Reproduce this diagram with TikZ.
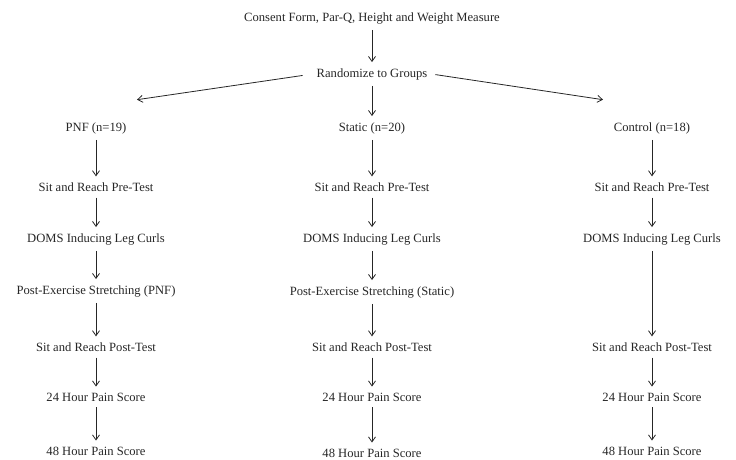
\documentclass[tikz,border=0pt]{standalone}
\usepackage{fontspec}
\setmainfont{Liberation Serif}
\usetikzlibrary{arrows.meta, positioning}

\begin{document}
\begin{tikzpicture}[
  x=1pt, y=-1pt,
  step box/.style={inner sep=4pt, font=\fontsize{12.6}{14}\selectfont, text=black!85},
  edge/.style={-{Straight Barb[length=5pt,width=7pt]}, line width=0.8pt, black!85, shorten <=2pt, shorten >=2pt}
]
\useasboundingbox (0,0) rectangle (736,460);

\node[step box] (consent) at (372,18) {Consent Form, Par-Q, Height and Weight Measure};
\node[step box] (rand) at (372,74) {Randomize to Groups};
\coordinate (lft) at (135,100);
\coordinate (rgt) at (605,100);

% PNF group
\node[step box] (pnf) at (96,128) {PNF (n=19)};
\node[step box] (pnfpre) at (96,187) {Sit and Reach Pre-Test};
\node[step box] (pnfdoms) at (96,239) {DOMS Inducing Leg Curls};
\node[step box] (pnfstr) at (96,291) {Post-Exercise Stretching (PNF)};
\node[step box] (pnfpost) at (96,347) {Sit and Reach Post-Test};
\node[step box] (pnf24) at (96,397) {24 Hour Pain Score};
\node[step box] (pnf48) at (96,451) {48 Hour Pain Score};

% Static group
\node[step box] (sta) at (372,128) {Static (n=20)};
\node[step box] (stapre) at (372,187) {Sit and Reach Pre-Test};
\node[step box] (stadoms) at (372,239) {DOMS Inducing Leg Curls};
\node[step box] (stastr) at (372,292) {Post-Exercise Stretching (Static)};
\node[step box] (stapost) at (372,347) {Sit and Reach Post-Test};
\node[step box] (sta24) at (372,397) {24 Hour Pain Score};
\node[step box] (sta48) at (372,453) {48 Hour Pain Score};

% Control group
\node[step box] (con) at (652,128) {Control (n=18)};
\node[step box] (conpre) at (652,187) {Sit and Reach Pre-Test};
\node[step box] (condoms) at (652,239) {DOMS Inducing Leg Curls};
\node[step box] (conpost) at (652,347) {Sit and Reach Post-Test};
\node[step box] (con24) at (652,397) {24 Hour Pain Score};
\node[step box] (con48) at (652,451) {48 Hour Pain Score};

\draw[edge] (consent) -- (rand);
\draw[edge, shorten <=10pt] (rand.west) -- (lft);
\draw[edge] (rand) -- (sta);
\draw[edge, shorten <=4pt] (rand.east) -- (rgt);

\draw[edge] (pnf) -- (pnfpre);
\draw[edge] (pnfpre) -- (pnfdoms);
\draw[edge] (pnfdoms) -- (pnfstr);
\draw[edge] (pnfstr) -- (pnfpost);
\draw[edge] (pnfpost) -- (pnf24);
\draw[edge] (pnf24) -- (pnf48);

\draw[edge] (sta) -- (stapre);
\draw[edge] (stapre) -- (stadoms);
\draw[edge] (stadoms) -- (stastr);
\draw[edge] (stastr) -- (stapost);
\draw[edge] (stapost) -- (sta24);
\draw[edge] (sta24) -- (sta48);

\draw[edge] (con) -- (conpre);
\draw[edge] (conpre) -- (condoms);
\draw[edge] (condoms) -- (conpost);
\draw[edge] (conpost) -- (con24);
\draw[edge] (con24) -- (con48);
\end{tikzpicture}
\end{document}
